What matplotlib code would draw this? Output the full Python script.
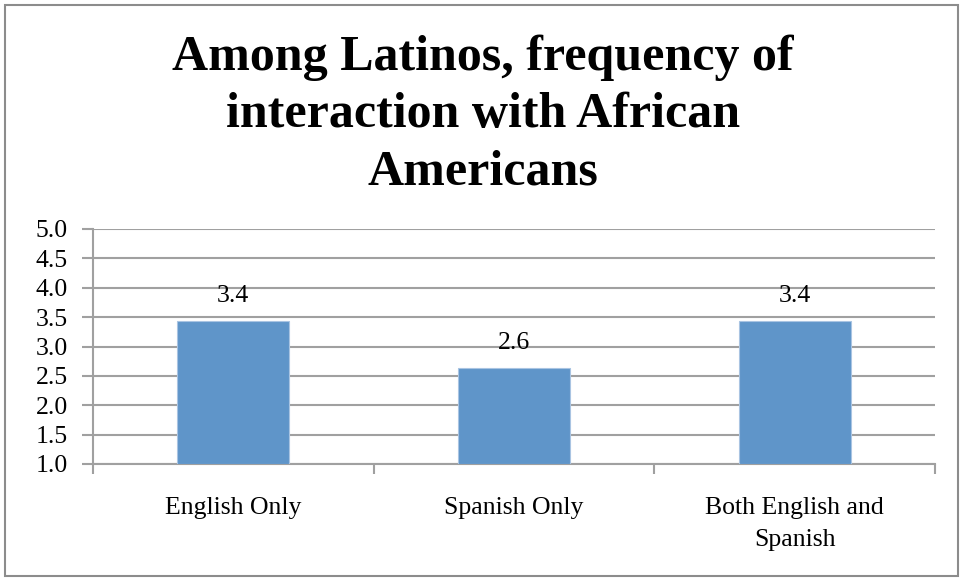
import matplotlib
matplotlib.use("Agg")
import matplotlib.pyplot as plt
from matplotlib.patches import Rectangle

categories = ["English Only", "Spanish Only", "Both English and\nSpanish"]
values = [3.44, 2.64, 3.44]
yticks = [1.0, 1.5, 2.0, 2.5, 3.0, 3.5, 4.0, 4.5, 5.0]
title = "Among Latinos, frequency of\ninteraction with African\nAmericans"

W, H = 963, 581
fig = plt.figure(figsize=(W / 100, H / 100), dpi=100)
fig.patch.set_facecolor("white")
fig.patches.append(Rectangle((5 / W, 5 / H), 953 / W, 571 / H, transform=fig.transFigure,
                             fill=False, edgecolor="#8c8c8c", linewidth=1.5))

ax = fig.add_axes([93 / W, 1 - 464 / H, (935 - 93) / W, (464 - 229) / H])
serif = ["Liberation Serif", "DejaVu Serif"]
fs = 18.5
x = list(range(len(categories)))
bars = ax.bar(x, [v - 1.0 for v in values], bottom=1.0, width=0.4, color="#5f95c9",
              edgecolor="#a9c4e2", linewidth=0.8, zorder=3)
ax.set_xlim(-0.5, len(categories) - 0.5)
ax.set_ylim(1.0, 5.0)
ax.set_yticks(yticks)
ax.set_yticklabels([f"{t:.1f}" for t in yticks], fontfamily=serif, fontsize=fs)
ax.yaxis.grid(True, color="#a0a0a0", linewidth=1.5, zorder=0)
ax.set_xticks([i - 0.5 for i in range(len(categories) + 1)])
ax.set_xticklabels([])
ax.set_xticks(x, minor=True)
ax.set_xticklabels(categories, minor=True, fontfamily=serif, fontsize=fs, linespacing=1.55)
ax.tick_params(axis="x", which="minor", length=0, pad=24)
ax.tick_params(axis="x", which="major", length=7, width=1.5, color="#a0a0a0")
ax.tick_params(axis="y", length=8, width=1.5, color="#a0a0a0", pad=10)
for s in ["top", "right"]:
    ax.spines[s].set_visible(False)
for s in ["left", "bottom"]:
    ax.spines[s].set_color("#a0a0a0")
    ax.spines[s].set_linewidth(1.5)
for xi, v in zip(x, values):
    ax.text(xi, v + 0.24, f"{v:.1f}", ha="center", va="bottom", fontfamily=serif, fontsize=fs)

fig.text(483 / W, 1 - 115 / H, title, ha="center", va="center", fontfamily=serif,
         fontweight="bold", fontsize=36, linespacing=1.33)

fig.savefig("out.png", dpi=100)
